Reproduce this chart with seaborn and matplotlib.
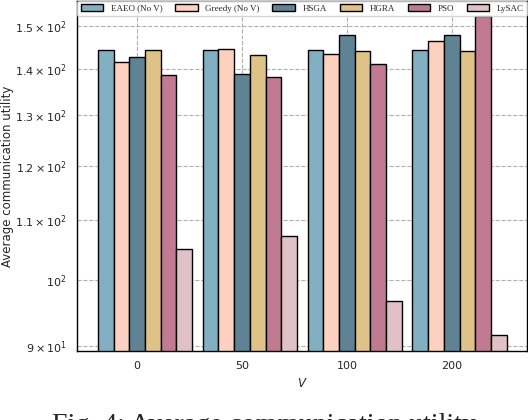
import numpy as np
import pandas as pd
import seaborn as sns
import matplotlib
matplotlib.use("Agg")
import matplotlib.pyplot as plt

# values (log y axis)
v_labels = ["0", "50", "100", "200"]
methods = ["EAEO (No V)", "Greedy (No V)", "HSGA", "HGRA", "PSO", "LySAC"]
eaeo = [144.2, 144.2, 144.2, 144.2]
greedy = [141.5, 144.5, 143.4, 146.5]
hsga = [142.8, 138.9, 147.8, 147.9]
hgra = [144.4, 143.1, 144.0, 144.0]
pso = [138.6, 138.3, 141.1, 152.3]
lysac = [105.1, 107.2, 96.6, 91.55]
colors = ["#82b0c2", "#fcd1bf", "#5f8394", "#dfc287", "#c07a92", "#e1c1c8"]

series = [eaeo, greedy, hsga, hgra, pso, lysac]
rows = []
for m, vals in zip(methods, series):
    for v, u in zip(v_labels, vals):
        rows.append({"V": v, "method": m, "utility": u})
df = pd.DataFrame(rows)

sns.set_style("whitegrid", {"grid.linestyle": "--", "axes.edgecolor": "black",
                            "grid.color": "#b0b0b0"})
plt.rcParams["font.family"] = ["DejaVu Sans"]

fig = plt.figure(figsize=(5.28, 4.2), dpi=100)
ax = fig.add_axes([0.1464, 0.1643, 0.852, 0.834])

sns.barplot(data=df, x="V", y="utility", hue="method", order=v_labels,
            hue_order=methods, palette=colors, saturation=1, width=0.9,
            edgecolor="black", linewidth=1.0, ax=ax)
ax.set_yscale("log")
ax.set_ylim(min(df["utility"]) * 0.975, max(df["utility"]) * 1.025)
ax.set_xlim(-0.646, 3.645)
ax.set_xticks(np.arange(len(v_labels)) - 0.075)
ax.set_xticklabels(v_labels)

ax.grid(True, which="both", axis="both", linestyle="--", color="#b0b0b0", linewidth=0.8)
ax.tick_params(axis="both", which="both", labelsize=8, length=4, width=0.8,
               color="#c8c8c8", direction="out")
for s in ax.spines.values():
    s.set_color("black")
    s.set_linewidth(1.0)

ax.set_xlabel("$V$", fontsize=8.5)
ax.set_ylabel("Average communication utility", fontsize=8.5)
ax.yaxis.set_label_coords(-0.14, 0.5)

ax.legend(ncol=6, mode="expand", loc="upper left", bbox_to_anchor=(0, 0, 1, 1),
          borderaxespad=0, handlelength=2.5, columnspacing=1.0,
          prop={"family": "Liberation Serif", "size": 6.5}, framealpha=0.8)

fig.text(0.5, -0.029, "Fig. 4: Average communication utility", ha="center",
         va="baseline", fontsize=20, family="Liberation Serif")

fig.savefig("out.png", dpi=100)
